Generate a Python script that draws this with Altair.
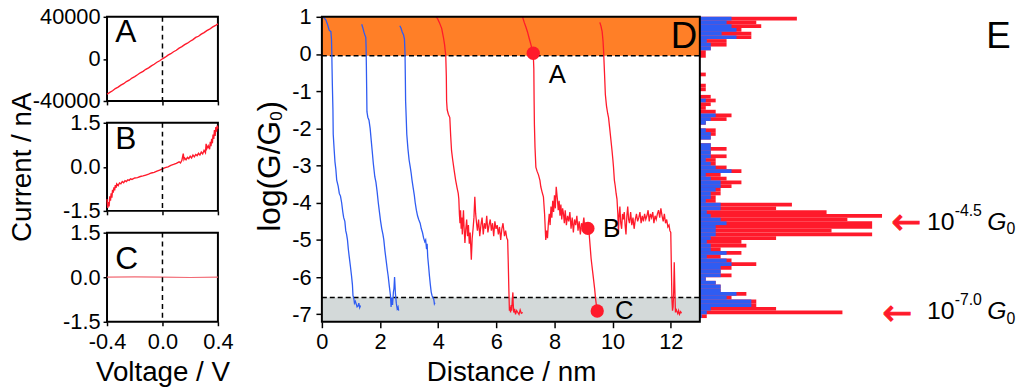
import altair as alt
import pandas as pd

FONT = "Liberation Sans"
RED = "#FF1A2B"
RED_LIGHT = "#F26A74"
BLUE = "#2F5CF2"
ORANGE = "#FF7F27"
GRAY = "#D3D9D9"

# ---------------- Panels A-C : I-V curves ----------------
IV_XTICKS = [-0.4, 0.0, 0.4]
A_YTICKS = [-40000, 0, 40000]
BC_YTICKS = [-1.5, 0.0, 1.5]

A_V = [-0.40, -0.38, -0.36, -0.34, -0.32, -0.30, -0.28, -0.26, -0.24, -0.22, -0.20,
       -0.18, -0.16, -0.14, -0.12, -0.10, -0.08, -0.06, -0.04, -0.02, 0.00, 0.02,
       0.04, 0.06, 0.08, 0.10, 0.12, 0.14, 0.16, 0.18, 0.20, 0.22, 0.24, 0.26, 0.28,
       0.30, 0.32, 0.34, 0.36, 0.38, 0.40]
A_I = [-33600, -31900, -30300, -28200, -26900, -25000, -23600, -21500, -20300, -18200,
       -16900, -15100, -13200, -11900, -9900, -8500, -6600, -5100, -3200, -1800, 100,
       1600, 3500, 4900, 6800, 8200, 10200, 11600, 13500, 14900, 16800, 18300, 20400,
       21500, 23500, 25000, 26900, 28200, 30200, 31500, 33200]

B_V = [-0.400, -0.395, -0.390, -0.385, -0.380, -0.375, -0.370, -0.365, -0.360, -0.355,
       -0.350, -0.345, -0.340, -0.335, -0.330, -0.320, -0.310, -0.300, -0.290, -0.280,
       -0.270, -0.260, -0.250, -0.240, -0.230, -0.220, -0.200, -0.180, -0.160, -0.140,
       -0.120, -0.100, -0.080, -0.060, -0.040, -0.020, 0.000, 0.020, 0.040, 0.060,
       0.080, 0.100, 0.120, 0.130, 0.140, 0.150, 0.155, 0.160, 0.170, 0.180,
       0.190, 0.200, 0.210, 0.220, 0.230, 0.240, 0.250, 0.260, 0.270, 0.280,
       0.290, 0.300, 0.310, 0.315, 0.320, 0.330, 0.340, 0.345, 0.350, 0.355,
       0.360, 0.365, 0.370, 0.375, 0.380, 0.385, 0.390, 0.395, 0.400]
B_I = [-1.10, -1.40, -1.20, -1.35, -1.00, -1.15, -0.90, -1.05, -0.78, -0.88,
       -0.70, -0.80, -0.62, -0.72, -0.58, -0.64, -0.55, -0.58, -0.50, -0.54,
       -0.47, -0.50, -0.44, -0.46, -0.41, -0.43, -0.38, -0.37, -0.33, -0.31,
       -0.28, -0.25, -0.21, -0.19, -0.15, -0.11, -0.07, -0.03, 0.00, 0.05,
       0.08, 0.12, 0.17, 0.13, 0.22, 0.45, 0.25, 0.30, 0.24, 0.32,
       0.28, 0.36, 0.30, 0.40, 0.34, 0.42, 0.38, 0.46, 0.40, 0.50,
       0.44, 0.56, 0.48, 0.78, 0.62, 0.72, 0.60, 0.85, 0.70, 0.95,
       0.80, 1.10, 0.95, 1.25, 1.05, 1.35, 1.20, 1.40, 1.30]

C_V = [-0.40, -0.20, 0.00, 0.20, 0.40]
C_I = [0.00, 0.01, 0.00, -0.01, 0.00]

# ---------------- Panel D : conductance traces ----------------
D_XTICKS = [0, 2, 4, 6, 8, 10, 12]
D_YTICKS = [-7, -6, -5, -4, -3, -2, -1, 0, 1]
D_XMAX = 13.0
Y_MIN, Y_MAX = -7.2, 1.0
HIGH_EDGE = -0.05
LOW_EDGE = -6.55

B1_X = [0.00, 0.08, 0.14, 0.20, 0.25, 0.31, 0.33, 0.34, 0.35, 0.36, 0.38, 0.39, 0.42, 0.45,
        0.48, 0.51, 0.56, 0.60, 0.64, 0.68, 0.72, 0.75, 0.79, 0.82, 0.85, 0.88, 0.91, 0.94,
        0.98, 1.02, 1.05, 1.07, 1.10, 1.12, 1.15, 1.18, 1.21, 1.24, 1.27, 1.30, 1.33]
B1_Y = [1.00, 0.97, 0.91, 0.78, 0.64, 0.60, 0.40, 0.07, -0.40, -0.82, -1.50, -2.16, -2.55,
        -2.90, -3.10, -3.39, -3.55, -3.75, -3.82, -4.00, -4.25, -4.40, -4.50, -4.75, -4.85,
        -5.00, -5.25, -5.45, -5.70, -5.97, -6.20, -6.50, -6.58, -6.70, -6.65, -6.72, -6.80,
        -6.78, -6.70, -6.82, -6.76]
B2_X = [1.37, 1.41, 1.45, 1.48, 1.51, 1.52, 1.53, 1.54, 1.55, 1.58, 1.62, 1.66, 1.70, 1.73,
        1.77, 1.82, 1.86, 1.90, 1.94, 1.98, 2.02, 2.06, 2.10, 2.13, 2.17, 2.21, 2.25, 2.28,
        2.32, 2.36, 2.38, 2.40, 2.43, 2.46, 2.48, 2.50, 2.53, 2.56, 2.59, 2.62, 2.64]
B2_Y = [0.80, 0.70, 0.58, 0.51, 0.45, 0.20, -0.30, -0.90, -1.55, -1.70, -1.78, -2.00, -2.35,
        -2.60, -2.95, -3.30, -3.45, -3.70, -4.00, -4.25, -4.50, -4.70, -4.85, -5.00, -5.30,
        -5.55, -5.80, -5.97, -6.25, -6.50, -6.80, -6.55, -6.75, -6.40, -6.30, -6.00, -6.45,
        -6.70, -6.85, -6.80, -6.90]
B3_X = [2.68, 2.72, 2.76, 2.81, 2.84, 2.86, 2.87, 2.88, 2.90, 2.92, 2.96, 3.00, 3.04, 3.07,
        3.10, 3.14, 3.18, 3.21, 3.25, 3.29, 3.33, 3.38, 3.42, 3.46, 3.50, 3.54, 3.57, 3.60,
        3.62, 3.64, 3.67, 3.70, 3.73, 3.76, 3.79, 3.82, 3.85, 3.87, 3.89]
B3_Y = [0.76, 0.70, 0.60, 0.51, 0.40, 0.00, -0.60, -1.27, -1.70, -2.16, -2.55, -2.85, -3.04,
        -3.20, -3.39, -3.60, -3.80, -4.00, -4.20, -4.35, -4.45, -4.55, -4.70, -4.80, -4.95,
        -5.05, -5.00, -5.25, -5.10, -5.45, -5.70, -5.97, -6.20, -6.40, -6.50, -6.55, -6.60,
        -6.72, -6.69]
R1_X = [3.92, 3.98, 4.04, 4.12, 4.18, 4.22, 4.24, 4.26, 4.28, 4.29, 4.31, 4.35, 4.40, 4.43,
        4.46, 4.50, 4.55, 4.60, 4.65, 4.69, 4.71, 4.73, 4.75, 4.77, 4.79, 4.81, 4.83, 4.85,
        4.87, 4.89, 4.92, 4.95, 4.98, 5.01, 5.04, 5.07, 5.10, 5.14, 5.17, 5.20, 5.23, 5.26,
        5.29, 5.32, 5.35, 5.39, 5.43, 5.47, 5.51, 5.55, 5.59, 5.63, 5.67, 5.71, 5.75, 5.79,
        5.83, 5.87, 5.91, 5.95, 5.99, 6.03, 6.07, 6.11, 6.15, 6.19, 6.23, 6.28, 6.32, 6.36,
        6.39, 6.41, 6.43, 6.45, 6.47, 6.49, 6.51, 6.53, 6.55, 6.57, 6.58, 6.60, 6.63, 6.66,
        6.70, 6.74, 6.78, 6.82, 6.86, 6.91]
R1_Y = [1.00, 0.95, 0.85, 0.69, 0.45, 0.25, 0.10, -0.02, -0.60, -1.27, -1.50, -1.62, -1.71,
        -2.20, -2.60, -2.85, -3.13, -3.39, -3.60, -3.75, -3.90, -4.30, -4.55, -4.20, -4.70,
        -4.40, -4.85, -4.50, -4.20, -4.65, -5.08, -4.70, -4.45, -4.90, -4.60, -5.10, -4.80,
        -5.53, -4.95, -4.70, -4.40, -3.84, -4.30, -4.55, -4.75, -4.45, -4.90, -4.60, -4.40,
        -4.85, -4.55, -4.70, -4.35, -4.80, -4.60, -4.45, -4.75, -4.55, -4.90, -4.50, -4.70,
        -4.60, -4.85, -4.65, -5.00, -4.70, -4.55, -4.90, -4.75, -4.95, -5.00, -5.60, -6.30,
        -6.90, -6.80, -6.95, -6.75, -6.90, -6.60, -6.41, -6.70, -6.95, -6.85, -7.00, -6.90,
        -6.95, -7.00, -6.88, -6.97, -6.95]
R2_X = [6.90, 6.96, 7.02, 7.07, 7.12, 7.19, 7.24, 7.27, 7.29, 7.30, 7.31, 7.33, 7.36, 7.40,
        7.45, 7.50, 7.53, 7.57, 7.62, 7.66, 7.70, 7.73, 7.76, 7.79, 7.82, 7.85, 7.88, 7.91,
        7.94, 7.97, 8.00, 8.03, 8.06, 8.10, 8.13, 8.16, 8.19, 8.22, 8.25, 8.28, 8.31, 8.34,
        8.37, 8.41, 8.45, 8.49, 8.53, 8.57, 8.61, 8.65, 8.69, 8.73, 8.77, 8.81, 8.85, 8.89,
        8.93, 8.97, 9.01, 9.05, 9.09, 9.13, 9.16, 9.18, 9.20, 9.23, 9.26, 9.29, 9.32, 9.35,
        9.38, 9.41, 9.44, 9.46]
R2_Y = [1.00, 0.85, 0.72, 0.60, 0.45, 0.25, 0.10, 0.02, -0.40, -1.27, -1.90, -2.50, -3.04,
        -3.15, -3.25, -3.40, -3.57, -3.70, -3.84, -4.30, -5.00, -4.75, -4.95, -4.55, -4.30,
        -4.60, -4.10, -4.40, -3.95, -4.25, -3.80, -4.15, -3.57, -3.90, -4.20, -3.95, -4.35,
        -4.05, -4.45, -4.15, -4.30, -4.55, -4.20, -4.60, -4.35, -4.50, -4.25, -4.70, -4.40,
        -4.80, -4.45, -4.60, -4.35, -4.75, -4.50, -4.85, -4.55, -4.65, -4.40, -4.75, -4.60,
        -4.80, -4.65, -4.70, -4.90, -5.20, -5.50, -5.70, -5.90, -6.10, -6.30, -6.55, -6.75,
        -6.91]
R3_X = [9.56, 9.60, 9.64, 9.67, 9.69, 9.72, 9.75, 9.79, 9.83, 9.86, 9.90, 9.94, 9.98, 10.01,
        10.03, 10.06, 10.09, 10.12, 10.15, 10.18, 10.20, 10.22, 10.25, 10.28, 10.31, 10.34,
        10.37, 10.40, 10.43, 10.46, 10.49, 10.52, 10.55, 10.58, 10.62, 10.66, 10.70, 10.74,
        10.78, 10.82, 10.86, 10.90, 10.94, 10.98, 11.02, 11.06, 11.10, 11.14, 11.18, 11.22,
        11.26, 11.30, 11.34, 11.38, 11.42, 11.46, 11.50, 11.54, 11.58, 11.62, 11.66, 11.70,
        11.74, 11.78, 11.82, 11.86, 11.90, 11.94, 11.97, 12.00, 12.02, 12.04, 12.06, 12.08,
        12.10, 12.12, 12.14, 12.16, 12.18, 12.21, 12.24, 12.27, 12.30, 12.34, 12.37]
R3_Y = [0.85, 0.75, 0.60, 0.35, 0.07, -0.50, -1.09, -1.40, -1.60, -1.71, -2.00, -2.30, -2.60,
        -2.85, -3.04, -3.39, -3.55, -3.75, -3.90, -4.30, -4.85, -4.40, -4.10, -4.55, -4.70,
        -4.30, -4.45, -4.25, -4.60, -4.85, -4.35, -4.10, -4.45, -4.55, -4.25, -4.60, -4.40,
        -4.70, -4.45, -4.30, -4.50, -4.40, -4.25, -4.55, -4.35, -4.50, -4.30, -4.45, -4.35,
        -4.20, -4.50, -4.30, -4.40, -4.25, -4.55, -4.35, -4.45, -4.30, -4.20, -4.40, -4.15,
        -4.35, -4.50, -4.30, -4.55, -4.45, -4.65, -4.60, -4.75, -4.80, -5.70, -6.60, -6.90,
        -6.80, -6.40, -5.60, -6.30, -6.95, -6.85, -6.92, -6.98, -6.90, -7.00, -6.93, -6.97]

TRACES = [("b1", B1_X, B1_Y), ("b2", B2_X, B2_Y), ("b3", B3_X, B3_Y),
          ("r1", R1_X, R1_Y), ("r2", R2_X, R2_Y), ("r3", R3_X, R3_Y)]
TRACE_COLORS = [BLUE, BLUE, BLUE, RED, RED, RED]

DOT_X = [7.27, 9.15, 9.47]
DOT_Y = [0.02, -4.69, -6.91]
PT_LBL_X = [7.80, 9.67, 10.08]
PT_LBL_Y = [-0.78, -4.91, -7.12]
PT_LBL = ["A", "B", "C"]

# ---------------- Panel E : histogram (0.1-decade bins from log G/G0 = 1 downward) ----------------
HIST_RED = [98, 57, 62, 42, 52, 52, 27, 27, 11, 6,
            6, 0, 0, 0, 0, 6, 0, 0, 6, 6,
            0, 11, 16, 11, 6, 16, 32, 27, 6, 0,
            16, 16, 11, 0, 11, 27, 11, 27, 16, 16,
            27, 42, 21, 27, 42, 32, 21, 21, 16, 16,
            93, 77, 128, 184, 149, 174, 174, 133, 174, 77,
            42, 47, 21, 42, 21, 32, 57, 32, 21, 32,
            6, 16, 21, 21, 47, 32, 57, 57, 77, 144,
            7]
HIST_BLUE = [32, 27, 32, 37, 22, 37, 7, 11, 11, 0,
             0, 0, 0, 0, 0, 0, 0, 0, 0, 0,
             0, 0, 6, 0, 0, 0, 16, 11, 6, 0,
             6, 11, 11, 0, 11, 11, 11, 11, 6, 11,
             16, 32, 6, 11, 21, 21, 16, 11, 11, 6,
             21, 21, 7, 11, 21, 27, 16, 16, 16, 11,
             7, 11, 11, 27, 7, 27, 32, 21, 21, 21,
             6, 16, 21, 21, 37, 27, 52, 52, 11, 7,
             2]
BIN_W = 0.1

DE_WIDTH = 690
DE_HEIGHT = 308
DE_XMAX = 23.5
E_UNIT = DE_XMAX / DE_WIDTH  # x-units per histogram count

PEAK_ARROW_X = [20.10, 19.79]
PEAK_ARROW_Y = [-4.55, -6.99]
PEAK_TXT_X = 20.81
PEAK_TXT_Y = [-4.72, -7.12]
PEAK_EXP = ["-4.5", "-7.0"]

YTITLE_X = -1.43
YTITLE_Y = -4.78


# =============== build panels A-C ===============
def minus_fix(fmt):
    return f"replace(format(datum.value, '{fmt}'), '\u2212', '-')"


def iv_panel(v, i, ydom, yticks, yfmt, letter, letter_i, xlabels, xtitle, ytitle,
             line_color, line_width, height, ytitle_pad=0):
    xs = alt.Scale(domain=[-0.4, 0.4], nice=False, zero=False)
    ys = alt.Scale(domain=ydom, nice=False, zero=False)
    xax = alt.Axis(values=IV_XTICKS, labels=xlabels, title=xtitle, tickSize=4,
                   labelPadding=6, titlePadding=6, domain=False, labelFlush=False,
                   labelExpr=minus_fix(".1f"))
    yax = alt.Axis(values=yticks, title=ytitle, tickSize=4, labelPadding=3,
                   titlePadding=ytitle_pad, domain=False, labelExpr=minus_fix(yfmt))
    X = alt.X("V:Q", scale=xs, axis=xax)
    Y = alt.Y("I:Q", scale=ys, axis=yax)
    rule = alt.Chart(pd.DataFrame({"V": [0.0]})).mark_rule(
        color="black", strokeDash=[5, 4], strokeWidth=1.5).encode(x=X)
    line = alt.Chart(pd.DataFrame({"V": v, "I": i})).mark_line(
        color=line_color, strokeWidth=line_width).encode(x=X, y=Y)
    lab = alt.Chart(pd.DataFrame({"V": [-0.34], "I": [letter_i], "t": [letter]})).mark_text(
        align="left", baseline="alphabetic", fontSize=32, color="black").encode(
        x=X, y=Y, text="t:N")
    return alt.layer(line, rule, lab).properties(width=112, height=height)


panel_a = iv_panel(A_V, A_I, [-40000, 40000], A_YTICKS, "d", "A", 16000,
                   False, None, None, RED, 1.4, 85)
panel_b = iv_panel(B_V, B_I, [-1.5, 1.5], BC_YTICKS, ".1f", "B", 0.62,
                   False, None, "Current / nA", RED, 1.4, 89, ytitle_pad=26)
panel_c = iv_panel(C_V, C_I, [-1.5, 1.5], BC_YTICKS, ".1f", "C", 0.27,
                   True, "Voltage / V", None, RED_LIGHT, 1.2, 90)
left = alt.vconcat(panel_a, panel_b, panel_c, spacing=22, bounds="flush")

# =============== build panels D + E ===============
XS = alt.Scale(domain=[0, DE_XMAX], nice=False, zero=False)
YS = alt.Scale(domain=[Y_MIN, Y_MAX], nice=False, zero=False)
XAX = alt.Axis(values=D_XTICKS, title="Distance / nm", titleX=191, domain=False,
               tickSize=6, labelPadding=4, titlePadding=6, labelFlush=False)
YAX = alt.Axis(values=D_YTICKS, title=None, domain=False, tickSize=6, labelPadding=5,
               labelExpr=minus_fix("d"))


def X(f="x"):
    return alt.X(f"{f}:Q", scale=XS, axis=XAX)


def Y(f="y"):
    return alt.Y(f"{f}:Q", scale=YS, axis=YAX)


bands = alt.Chart(pd.DataFrame({
    "x": [0.0, 0.0], "x2": [D_XMAX, D_XMAX],
    "y": [HIGH_EDGE, Y_MIN], "y2": [Y_MAX, LOW_EDGE], "c": [ORANGE, GRAY]})
).mark_rect().encode(x=X(), x2="x2:Q", y=Y(), y2="y2:Q", color=alt.Color("c:N", scale=None))

dashes = alt.Chart(pd.DataFrame({"x": [0.0, 0.0], "x2": [D_XMAX, D_XMAX],
                                 "y": [HIGH_EDGE, LOW_EDGE]})).mark_rule(
    color="black", strokeDash=[5, 3], strokeWidth=1.5).encode(x=X(), x2="x2:Q", y=Y())

bin_top = [Y_MAX - BIN_W * k for k in range(len(HIST_RED))]
hist_df = pd.DataFrame({"y": bin_top, "red": HIST_RED, "blue": HIST_BLUE})
hist_df["y2"] = hist_df["y"] - BIN_W
hist_red = alt.Chart(hist_df).transform_calculate(
    x=f"{D_XMAX}", x2=f"{D_XMAX} + datum.red * {E_UNIT}").mark_rect(color=RED).encode(
    x=X(), x2="x2:Q", y=Y(), y2="y2:Q")
hist_blue = alt.Chart(hist_df).transform_calculate(
    x=f"{D_XMAX}", x2=f"{D_XMAX} + datum.blue * {E_UNIT}").mark_rect(color=BLUE).encode(
    x=X(), x2="x2:Q", y=Y(), y2="y2:Q")

rows = []
for name, xs_, ys_ in TRACES:
    tdf = pd.DataFrame({"x": xs_, "y": ys_})
    tdf["trace"] = name
    tdf["idx"] = range(len(tdf))
    rows.append(tdf)
traces_df = pd.concat(rows, ignore_index=True)
traces = alt.Chart(traces_df).mark_line(strokeWidth=1.3).encode(
    x=X(), y=Y(), order="idx:Q",
    color=alt.Color("trace:N", scale=alt.Scale(domain=[t[0] for t in TRACES],
                                               range=TRACE_COLORS), legend=None))

dots = alt.Chart(pd.DataFrame({"x": DOT_X, "y": DOT_Y})).mark_circle(
    size=180, color=RED, opacity=1).encode(x=X(), y=Y())

frame = alt.Chart(pd.DataFrame({"x": [0.0], "x2": [D_XMAX], "y": [Y_MIN], "y2": [Y_MAX]})
                  ).mark_rect(fill="transparent", stroke="black", strokeWidth=2).encode(
    x=X(), x2="x2:Q", y=Y(), y2="y2:Q")

pt_labels = alt.Chart(pd.DataFrame({"x": PT_LBL_X, "y": PT_LBL_Y, "t": PT_LBL})).mark_text(
    align="left", baseline="alphabetic", fontSize=26, color="black").encode(
    x=X(), y=Y(), text="t:N")

letter_d = alt.Chart(pd.DataFrame({"x": [12.91], "y": [0.15], "t": ["D"]})).mark_text(
    align="right", baseline="alphabetic", fontSize=37, color="black").encode(
    x=X(), y=Y(), text="t:N")
letter_e = alt.Chart(pd.DataFrame({"x": [22.85], "y": [0.15], "t": ["E"]})).mark_text(
    align="left", baseline="alphabetic", fontSize=37, color="black").encode(
    x=X(), y=Y(), text="t:N")

arrows = alt.Chart(pd.DataFrame({"x": PEAK_ARROW_X, "y": PEAK_ARROW_Y})).mark_text(
    text="\u2190", align="center", baseline="middle", fontSize=36,
    font="DejaVu Sans", color=RED, stroke=RED, strokeWidth=1).encode(x=X(), y=Y())

peak_df = pd.DataFrame({"x": [PEAK_TXT_X, PEAK_TXT_X], "y": PEAK_TXT_Y, "e": PEAK_EXP})
peak_ten = alt.Chart(peak_df).mark_text(text="10", align="left", baseline="alphabetic",
                                        fontSize=25, color="black").encode(x=X(), y=Y())
peak_exp = alt.Chart(peak_df).mark_text(align="left", baseline="alphabetic", fontSize=16,
                                        dx=28, dy=-14, color="black").encode(
    x=X(), y=Y(), text="e:N")
peak_g = alt.Chart(peak_df).mark_text(text="G", align="left", baseline="alphabetic",
                                      fontSize=25, fontStyle="italic", dx=61,
                                      color="black").encode(x=X(), y=Y())
peak_sub = alt.Chart(peak_df).mark_text(text="0", align="left", baseline="alphabetic",
                                        fontSize=16, dx=80.5, dy=5, color="black").encode(
    x=X(), y=Y())

yt_df = pd.DataFrame({"x": [YTITLE_X], "y": [YTITLE_Y]})


def yt_piece(txt, dx, size=32, dy=0):
    return alt.Chart(yt_df).mark_text(
        text=txt, angle=270, align="left", baseline="alphabetic", fontSize=size,
        dx=dx, dy=dy, color="black").encode(x=X(), y=Y())


ytitle = [yt_piece("log(G/G", 0), yt_piece("0", 112.0, size=17, dy=2),
          yt_piece(")", 121.5)]

de = alt.layer(bands, dashes, hist_red, hist_blue, traces, dots, frame, pt_labels,
               letter_d, letter_e, arrows, peak_ten, peak_exp, peak_g, peak_sub,
               *ytitle).properties(width=DE_WIDTH, height=DE_HEIGHT,
                                   view=alt.ViewBackground(strokeOpacity=0))

chart = alt.hconcat(left, de, spacing=20).properties(
    padding={"left": 0, "top": -5, "right": 0, "bottom": 0}
).configure(font=FONT).configure_view(stroke="black", strokeWidth=2).configure_axis(
    labelFont=FONT, titleFont=FONT, labelFontSize=22, titleFontSize=28,
    titleFontWeight="normal", labelColor="black", titleColor="black", tickColor="black",
    tickWidth=1.5, domainColor="black", grid=False, labelOverlap=False
)

chart.save("out.html", embed_options={"renderer": "svg", "actions": False})
